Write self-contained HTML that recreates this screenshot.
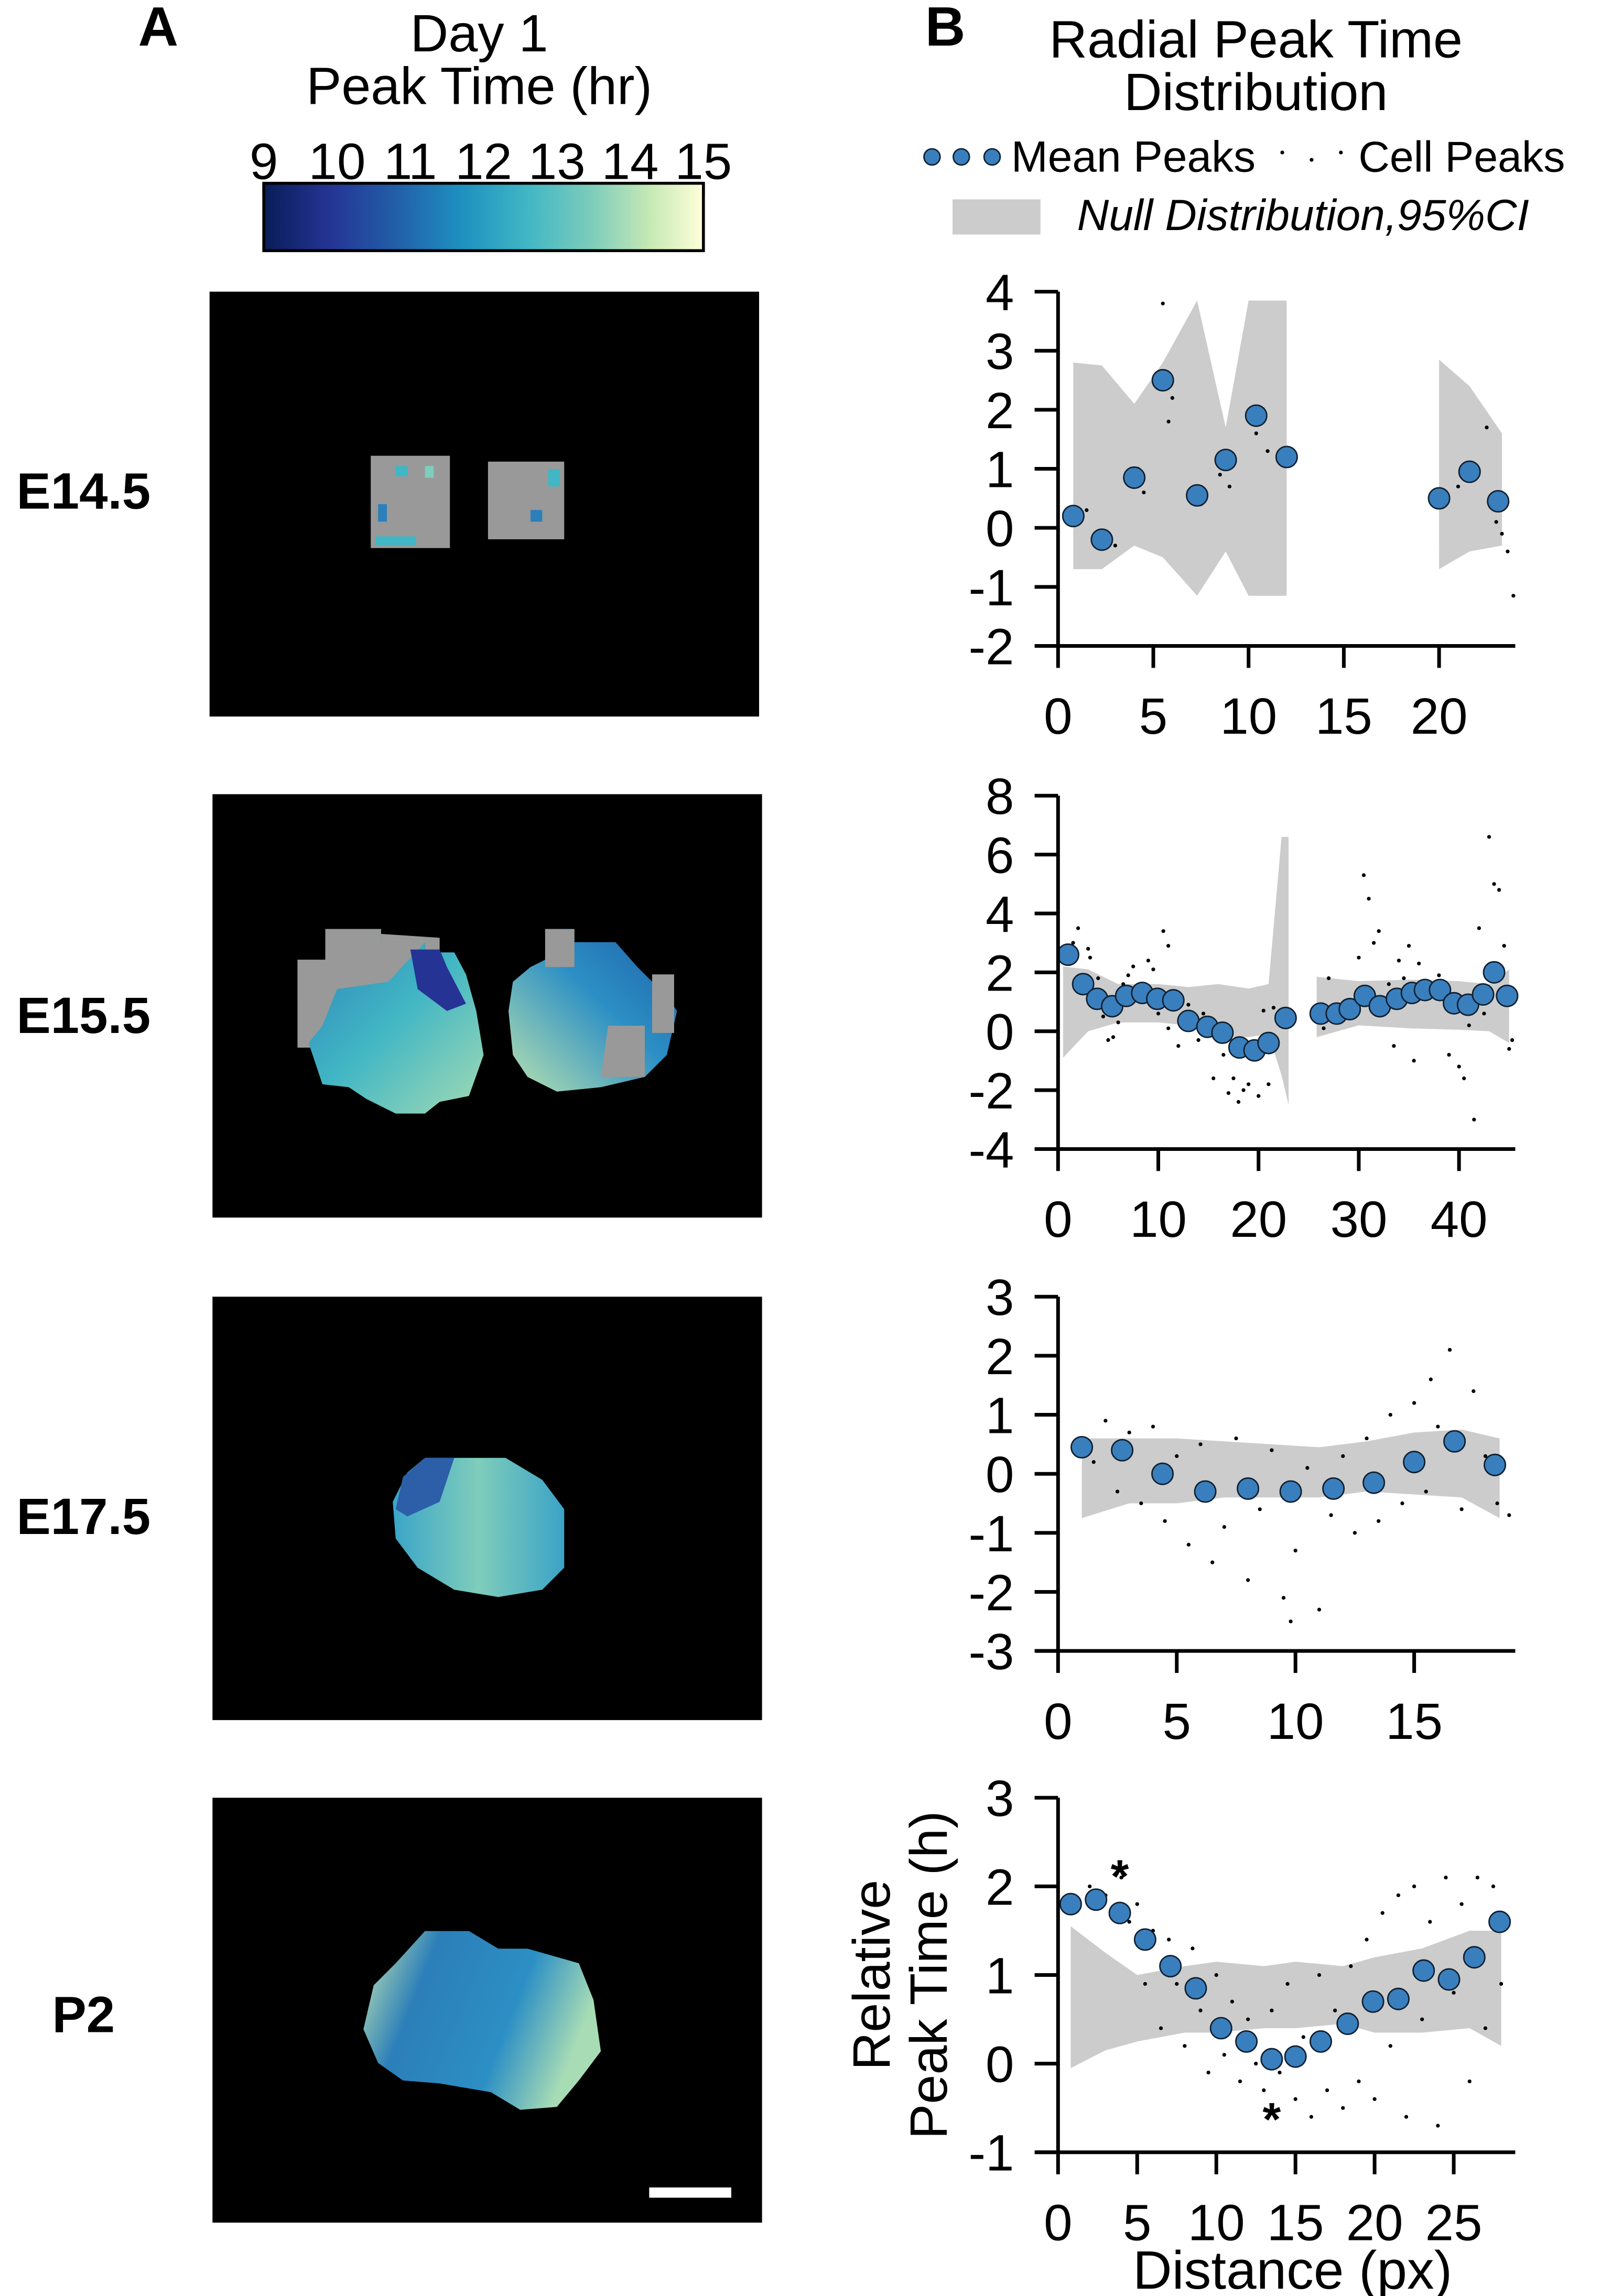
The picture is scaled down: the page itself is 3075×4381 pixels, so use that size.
<!DOCTYPE html>
<html><head><meta charset="utf-8"><style>
html,body{margin:0;padding:0;background:#fff;}
svg{display:block;font-family:"Liberation Sans",sans-serif;}
</style></head><body>
<svg id="fig" width="3075" height="4381" viewBox="0 0 1100 1567" xmlns="http://www.w3.org/2000/svg">
<defs>
<linearGradient id="cmap" x1="0" x2="1" y1="0" y2="0">
<stop offset="0" stop-color="#081d58"/><stop offset="0.15" stop-color="#253494"/><stop offset="0.3" stop-color="#225ea8"/><stop offset="0.45" stop-color="#1d91c0"/><stop offset="0.6" stop-color="#41b6c4"/><stop offset="0.75" stop-color="#7fcdbb"/><stop offset="0.88" stop-color="#c7e9b4"/><stop offset="1" stop-color="#ffffd9"/>
</linearGradient>
<linearGradient id="blobA" x1="0" x2="1" y1="0" y2="1"><stop offset="0" stop-color="#2c7fb8"/><stop offset="0.5" stop-color="#41b6c4"/><stop offset="1" stop-color="#a1dab4"/></linearGradient>
<linearGradient id="blobB" x1="1" x2="0" y1="0" y2="1"><stop offset="0" stop-color="#1d5fa8"/><stop offset="0.45" stop-color="#2c8fc4"/><stop offset="1" stop-color="#b8e2b0"/></linearGradient>
<linearGradient id="blobC" x1="0" x2="1" y1="0" y2="0.3"><stop offset="0" stop-color="#c7e9b4"/><stop offset="0.3" stop-color="#2c7fb8"/><stop offset="0.7" stop-color="#2c8fc4"/><stop offset="1" stop-color="#a8dcb5"/></linearGradient>
<linearGradient id="blobD" x1="0" x2="1" y1="0" y2="0"><stop offset="0" stop-color="#3aa5c8"/><stop offset="0.5" stop-color="#7fcdbb"/><stop offset="1" stop-color="#3ba3c6"/></linearGradient>
</defs>

<text x="108" y="31" font-size="38" font-weight="bold" text-anchor="middle">A</text>
<text x="327" y="35" font-size="36" text-anchor="middle">Day 1</text>
<text x="327" y="71" font-size="36" text-anchor="middle">Peak Time (hr)</text>
<g id="cbticks"></g>
<rect x="180" y="125" width="300" height="46" fill="url(#cmap)" stroke="#000" stroke-width="2"/>

<rect x="143" y="199" width="375" height="290" fill="#000"/>
<rect x="253" y="311" width="54" height="63" fill="#999"/>
<rect x="333" y="315" width="52" height="53" fill="#999"/>
<rect x="270" y="318" width="8" height="7" fill="#41b6c4"/><rect x="258" y="344" width="6" height="12" fill="#2c7fb8"/><rect x="256" y="366" width="28" height="6" fill="#41b6c4"/><rect x="374" y="320" width="8" height="12" fill="#41b6c4"/><rect x="362" y="348" width="8" height="8" fill="#2c7fb8"/><rect x="290" y="318" width="6" height="8" fill="#7fcdbb"/>

<rect x="145" y="542" width="375" height="289" fill="#000"/>
<polygon points="224,635 260,635 260,645 290,645 290,660 205,660 205,655 203,655 203,715 215,715 215,720 240,720 240,650 300,650 300,640" fill="#999"/>
<polygon points="203,655 222,655 222,634 260,634 260,643 290,643 290,650 310,650 318,665 325,690 330,720 320,748 300,752 290,760 270,760 250,750 238,742 220,740 210,710 210,680 203,680" fill="url(#blobA)"/>
<polygon points="203,655 222,655 222,634 260,634 260,643 290,643 265,670 230,675 220,700 208,715 203,715" fill="#999"/>
<polygon points="280,648 300,648 305,660 318,685 305,690 285,675" fill="#253494"/>
<polygon points="372,634 390,634 390,643 420,643 435,660 455,680 462,690 455,720 440,735 410,742 380,745 360,735 350,720 347,690 350,670 362,660 372,655" fill="url(#blobB)"/>
<polygon points="372,634 392,634 392,660 372,660" fill="#999"/><polygon points="415,700 440,700 440,735 410,735" fill="#999"/><polygon points="445,665 460,665 460,705 445,705" fill="#999"/>

<rect x="145" y="885" width="375" height="289" fill="#000"/>
<polygon points="290,995 345,995 370,1010 385,1030 385,1070 370,1085 340,1090 310,1085 285,1070 270,1050 268,1025 278,1005" fill="url(#blobD)"/>
<polygon points="290,995 310,995 300,1025 278,1035 270,1030 275,1008" fill="#2c5fa8"/>

<rect x="145" y="1227" width="375" height="290" fill="#000"/>
<polygon points="290,1318 320,1318 340,1330 360,1330 395,1340 405,1365 410,1400 395,1420 380,1438 355,1440 335,1428 300,1422 275,1420 258,1408 248,1385 255,1355 270,1340" fill="url(#blobC)"/>
<rect x="443" y="1493" width="56" height="7" fill="#fff"/>

<text x="57" y="347" font-size="35" font-weight="bold" text-anchor="middle">E14.5</text>
<text x="57" y="705" font-size="35" font-weight="bold" text-anchor="middle">E15.5</text>
<text x="57" y="1047" font-size="35" font-weight="bold" text-anchor="middle">E17.5</text>
<text x="57" y="1387" font-size="35" font-weight="bold" text-anchor="middle">P2</text>

<text x="645" y="31" font-size="38" font-weight="bold" text-anchor="middle">B</text>
<text x="857" y="39" font-size="36" text-anchor="middle">Radial Peak Time</text>
<text x="857" y="75" font-size="36" text-anchor="middle">Distribution</text>
<g>
<circle cx="636" cy="107" r="5.5" fill="#3a7fbd" stroke="#123" stroke-width="1"/><circle cx="656" cy="107" r="5.5" fill="#3a7fbd" stroke="#123" stroke-width="1"/><circle cx="677" cy="107" r="5.5" fill="#3a7fbd" stroke="#123" stroke-width="1"/>
<text x="690" y="117" font-size="30">Mean Peaks</text>
<circle cx="875" cy="104" r="1.3" fill="#000"/><circle cx="895" cy="109" r="1.3" fill="#000"/><circle cx="915" cy="104" r="1.3" fill="#000"/>
<text x="927" y="117" font-size="29.5">Cell Peaks</text>
<rect x="650" y="136" width="60" height="24" fill="#cccccc"/>
<text x="735" y="157" font-size="30" font-style="italic">Null Distribution,95%CI</text>
</g>
<g id="charts"></g>
</svg>
<script>
const cbTicks = [9,10,11,12,13,14,15];
const c1X = [0.8,2.3,4,5.5,7.3,8.8,10.4,12,20,21.6,23.1];
const c1Y = [0.2,-0.2,0.85,2.5,0.55,1.15,1.9,1.2,0.5,0.95,0.45];
const c1BandA = [[0.8,2.8,-0.7],[2.3,2.75,-0.7],[4,2.1,-0.3],[5.5,2.8,-0.5],[7.3,3.85,-1.15],[8.8,1.7,-0.4],[10,3.85,-1.15],[12,3.85,-1.15]];
const c1BandB = [[20,2.85,-0.7],[21.6,2.4,-0.4],[23.3,1.6,-0.3]];
const c1Cells = [[0.8,0.1],[1.5,0.3],[2.3,-0.1],[3,-0.3],[4,0.7],[4.2,1],[4.5,0.6],[5.5,3.8],[5.8,1.8],[6,2.2],[7,0.6],[7.5,0.4],[8.5,0.9],[8.8,1.3],[9,0.7],[10.4,1.6],[11,1.3],[12,1.1],[20,0.4],[21,0.7],[21.6,1.1],[22.5,1.7],[23,0.1],[23.3,-0.1],[23.6,-0.4],[23.9,-1.15]];
const c2X = [1,2.5,3.9,5.4,6.8,8.4,9.9,11.5,13,14.9,16.4,18.1,19.6,21,22.7,26.2,27.8,29.1,30.6,32.1,33.8,35.3,36.6,38.1,39.5,40.9,42.4,43.5,44.8];
const c2Y = [2.6,1.6,1.1,0.85,1.2,1.3,1.1,1.05,0.35,0.15,-0.05,-0.55,-0.65,-0.4,0.45,0.6,0.6,0.75,1.2,0.85,1.1,1.3,1.4,1.4,0.95,0.9,1.25,2,1.2];
const c2BandA = [[0.5,2.2,-0.9],[3,2.1,0],[6,1.6,0.3],[10,1.6,0.3],[13,1.5,0.2],[16,1.6,-0.2],[19,1.45,-0.2],[21,1.6,-0.1],[22.3,6.6,-1.5],[23,6.6,-2.5]];
const c2BandB = [[25.8,1.85,-0.2],[30,1.7,0.2],[35,1.75,0.1],[40,1.7,0.05],[43,1.6,0],[45,2.1,-0.4]];
const c2Cells = [[1.5,3],[2,3.5],[3,2.8],[3.2,2.5],[4,1.8],[4.5,0.5],[5,-0.3],[5.5,-0.2],[6,0.3],[6.5,1.6],[7,1.9],[7.5,2.2],[8,1.1],[9,2.4],[9.5,2.1],[10,0.6],[10.5,3.4],[11,2.9],[11,0.1],[12,-0.5],[13,0.9],[14,-0.3],[14.5,0.6],[15.5,-1.6],[16,0.2],[16.5,-0.8],[17,-2.1],[17.5,-1.6],[18,-2.4],[18.5,-2],[19,-1.8],[19.5,-0.9],[20,-2.2],[20.5,0.7],[21,-1.8],[21.5,0.8],[26,0.3],[26.5,0.1],[27,1.8],[28,0.3],[29,0.8],[30,2.5],[30.5,5.3],[31,4.5],[31.5,3.0],[32,3.4],[33,1.6],[33.5,-0.5],[34,2.4],[34.5,1.8],[35,2.9],[35.5,-1.0],[36,2.3],[37,1.5],[38,1.9],[39,-0.8],[40,-1.2],[40.5,-1.6],[41,0.2],[41.5,-3],[42,3.5],[42.5,0.6],[43,6.6],[43.5,5],[44,4.8],[44.5,2.9],[45,-0.6],[45.3,-0.3]];
const c3X = [1,2.7,4.4,6.2,8,9.8,11.6,13.3,15,16.7,18.4];
const c3Y = [0.45,0.4,0,-0.3,-0.25,-0.3,-0.25,-0.15,0.2,0.55,0.15];
const c3Band = [[1,0.6,-0.75],[3,0.6,-0.5],[5,0.6,-0.5],[7,0.55,-0.4],[9,0.5,-0.4],[11,0.45,-0.4],[13,0.55,-0.3],[15,0.7,-0.35],[17,0.75,-0.4],[18.6,0.6,-0.75]];
const c3Cells = [[1.5,0.2],[2,0.9],[2.5,-0.3],[3,0.7],[3.5,-0.5],[4,0.8],[4.5,-0.8],[5,0.3],[5.5,-1.2],[6,0.5],[6.5,-1.5],[7,-0.9],[7.5,0.6],[8,-1.8],[8.5,-0.6],[9,0.4],[9.5,-2.1],[9.8,-2.5],[10,-1.3],[10.5,0.1],[11,-2.3],[11.5,-0.7],[12,0.3],[12.5,-1.0],[13,0.6],[13.5,-0.8],[14,1.0],[14.5,-0.5],[15,1.2],[15.5,-0.3],[15.7,1.6],[16,0.8],[16.5,2.1],[17,-0.6],[17.5,1.4],[18,0.3],[18.5,-0.5],[19,-0.7]];
const c4X = [0.8,2.4,3.9,5.5,7.1,8.7,10.3,11.9,13.5,15,16.6,18.3,19.9,21.5,23.1,24.7,26.3,27.9];
const c4Y = [1.8,1.85,1.7,1.4,1.1,0.85,0.4,0.25,0.05,0.08,0.25,0.45,0.7,0.73,1.05,0.95,1.2,1.6];
const c4Band = [[0.8,1.55,-0.05],[3,1.25,0.15],[5,1.0,0.25],[8,1.1,0.35],[10,1.15,0.35],[13,1.1,0.4],[15,1.15,0.4],[18,1.1,0.45],[20,1.2,0.35],[23,1.3,0.35],[26,1.5,0.4],[28,1.5,0.2]];
const c4Cells = [[2,2],[3,1.9],[4,2.1],[4.5,1.6],[5,1.8],[5.5,0.9],[6,1.5],[6.5,0.4],[7,1.4],[7.5,0.9],[8,0.2],[8.5,1.3],[9,0.6],[9.5,-0.1],[10,1],[10.5,0.1],[11,0.7],[11.5,-0.2],[12,0.5],[12.5,0],[13,-0.3],[13.5,0.6],[14,-0.1],[14.5,0.9],[15,-0.4],[15.5,0.3],[16,-0.6],[16.5,1.0],[17,-0.3],[17.5,0.6],[18,-0.5],[18.5,1.1],[19,-0.2],[19.5,1.4],[20,-0.4],[20.5,1.7],[21,0.2],[21.5,1.9],[22,-0.6],[22.5,2.0],[23,0.5],[23.5,1.6],[24,-0.7],[24.5,2.1],[25,0.8],[25.5,1.8],[26,-0.2],[26.5,2.1],[27,0.4],[27.5,2.0],[28,0.9]];
</script>
<script>
const NS = "http://www.w3.org/2000/svg";
const root = document.getElementById('charts');
function mk(tag, attrs, parent){ const e=document.createElementNS(NS,tag); for(const k in attrs) e.setAttribute(k,attrs[k]); (parent||root).appendChild(e); return e; }

const cbg = document.getElementById('cbticks');
cbTicks.forEach(v=>{
  const x = 180 + (v-9)/(15-9)*300;
  const t = mk('text',{x:x,y:122,'font-size':35,'text-anchor':'middle'},cbg);
  
  
  t.textContent=v;
  const l = mk('line',{x1:x,x2:x,y1:125,y2:133,stroke:'#000','stroke-width':2},cbg);
  
  
});

function chart(cfg){
  const g = mk('g',{});
  
  
  const X0=722, X1=1034;
  const sx = v => X0 + v*cfg.xpx;
  const sy = v => cfg.yTop + (cfg.yMax - v)*cfg.ypx;
  const yBot = sy(cfg.yMin);
  cfg.bands.forEach(b=>{
    let pts = b.map(p=>sx(p[0])+','+sy(p[1]));
    pts = pts.concat(b.slice().reverse().map(p=>sx(p[0])+','+sy(p[2])));
    const pg = mk('polygon',{points:pts.join(' '),fill:'#cccccc'},g);
    
    
  });
  cfg.cells.forEach(c=>{
    const d = mk('circle',{cx:sx(c[0]),cy:sy(c[1]),r:1.3,fill:'#000'},g);
    
    
  });
  cfg.xs.forEach((x,i)=>{
    const d = mk('circle',{cx:sx(x),cy:sy(cfg.ys[i]),r:7.2,fill:'#3a7fbd',stroke:'#102030','stroke-width':1},g);
    
    
  });
  const ya = mk('line',{x1:X0,x2:X0,y1:cfg.yTop,y2:yBot,stroke:'#000','stroke-width':2.5},g);
  
  
  const xa = mk('line',{x1:707,x2:X1,y1:yBot,y2:yBot,stroke:'#000','stroke-width':2.5},g);
  
  
  cfg.yticks.forEach(v=>{
    const y=sy(v);
    mk('line',{x1:706,x2:X0,y1:y,y2:y,stroke:'#000','stroke-width':2.5},g);
    const t=mk('text',{x:692,y:y+12.5,'font-size':35,'text-anchor':'end'},g);
    
    
    t.textContent = v<0 ? '-'+Math.abs(v) : v;
  });
  cfg.xticks.forEach(v=>{
    const x=sx(v);
    mk('line',{x1:x,x2:x,y1:yBot,y2:yBot+15,stroke:'#000','stroke-width':2.5},g);
    const t=mk('text',{x:x,y:yBot+60,'font-size':35,'text-anchor':'middle'},g);
    
    
    t.textContent=v;
  });
  return {g,sx,sy};
}

chart({name:'chart-e14-5',xs:c1X,ys:c1Y,bands:[c1BandA,c1BandB],cells:c1Cells,yTop:199,yMax:4,yMin:-2,ypx:40.3,xpx:13.0,yticks:[4,3,2,1,0,-1,-2],xticks:[0,5,10,15,20]});
chart({name:'chart-e15-5',xs:c2X,ys:c2Y,bands:[c2BandA,c2BandB],cells:c2Cells,yTop:543,yMax:8,yMin:-4,ypx:20.1,xpx:6.84,yticks:[8,6,4,2,0,-2,-4],xticks:[0,10,20,30,40]});
chart({name:'chart-e17-5',xs:c3X,ys:c3Y,bands:[c3Band],cells:c3Cells,yTop:885,yMax:3,yMin:-3,ypx:40.3,xpx:16.2,yticks:[3,2,1,0,-1,-2,-3],xticks:[0,5,10,15]});
const c4 = chart({name:'chart-p2',xs:c4X,ys:c4Y,bands:[c4Band],cells:c4Cells,yTop:1227,yMax:3,yMin:-1,ypx:60.5,xpx:10.8,yticks:[3,2,1,0,-1],xticks:[0,5,10,15,20,25]});

const s1 = mk('text',{x:c4.sx(3.9),y:c4.sy(1.7)-14,'font-size':32,'font-weight':'bold','text-anchor':'middle'});


s1.textContent='*';
const s2 = mk('text',{x:c4.sx(13.5),y:c4.sy(0.05)+52,'font-size':32,'font-weight':'bold','text-anchor':'middle'});


s2.textContent='*';

const xt = mk('text',{x:882,y:1562,'font-size':37,'text-anchor':'middle'});


xt.textContent='Distance (px)';
const yt1 = mk('text',{x:0,y:0,'font-size':36,'text-anchor':'middle',transform:'translate(607,1348) rotate(-90)'});


yt1.textContent='Relative';
const yt2 = mk('text',{x:0,y:0,'font-size':36,'text-anchor':'middle',transform:'translate(646,1348) rotate(-90)'});


yt2.textContent='Peak Time (h)';
</script>
</body></html>
